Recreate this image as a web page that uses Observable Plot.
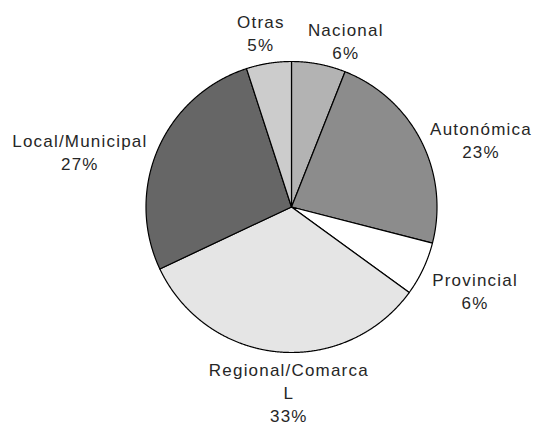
<!DOCTYPE html>
<html><head><meta charset="utf-8">
<script src="https://cdn.jsdelivr.net/npm/d3@7"></script>
<script src="https://cdn.jsdelivr.net/npm/@observablehq/plot@0.6"></script>
<style>body{margin:0;background:#fff}</style>
</head><body><div id="chart"></div>
<script>
// ---- data ----
const categories = ["Nacional", "Autonómica", "Provincial", "Regional/Comarca\nL", "Local/Municipal", "Otras"];
const shares = [6, 23, 6, 33, 27, 5];
const percentLabels = ["6%", "23%", "6%", "33%", "27%", "5%"];
const sliceColors = ["#b3b3b3", "#8c8c8c", "#ffffff", "#e5e5e5", "#666666", "#cccccc"];

// ---- layout ----
const W = 536, H = 427, CX = 291, CY = 206.5, R = 145.5;
const FONT_SIZE = 17, LETTER = 1.2, LINE_H = 23;
// manual label adjustments (px), like hand-dragged labels in the original
const nudges = {
  "Nacional": [21.6, 1.7],
  "Autonómica": [11.4, 23],
  "Provincial": [9.1, 1.4],
  "Regional/Comarca\nL": [14, 2.5],
  "Local/Municipal": [-15.1, 29],
  "Otras": [-5, -9]
};

const rows = categories.map((c, i) => ({category: c, share: shares[i]}));
const arcs = d3.pie().sort(null).value(d => d.share)(rows);

const step = Math.PI / 720;
const sliceMarks = arcs.map((a, i) => {
  const pts = [{x: 0, y: 0}];
  const n = Math.max(2, Math.ceil((a.endAngle - a.startAngle) / step));
  for (let j = 0; j <= n; j++) {
    const t = a.startAngle + (a.endAngle - a.startAngle) * j / n;
    pts.push({x: Math.sin(t), y: Math.cos(t)});
  }
  pts.push({x: 0, y: 0});
  return Plot.line(pts, {x: "x", y: "y", fill: sliceColors[i], stroke: "#000", strokeWidth: 1.2, strokeLinejoin: "round", curve: "linear"});
});

const ctx = document.createElement("canvas").getContext("2d");
ctx.font = `${FONT_SIZE}px "Liberation Sans", Arial, sans-serif`;
const textW = s => ctx.measureText(s).width + LETTER * (s.length - 1);

const labelData = arcs.map((a, i) => {
  const lines = (categories[i] + "\n" + percentLabels[i]).split("\n");
  const w = Math.max(...lines.map(textW));
  const h = (lines.length - 1) * LINE_H + 14;
  const m = (a.startAngle + a.endAngle) / 2;
  const s = Math.sin(m), k = Math.cos(m);
  const t = R + 0.5 + (w / 2) * Math.abs(s) + (h / 2) * Math.abs(k);
  const [dx, dy] = nudges[categories[i]];
  const px = CX + t * s + dx + LETTER / 2;
  const py = CY - t * k + dy;
  return {x: (px - CX) / R, y: (CY - py) / R, text: lines.join("\n")};
});

const chart = Plot.plot({
  width: W, height: H, margin: 0,
  x: {domain: [-1, 1], range: [CX - R, CX + R], axis: null},
  y: {domain: [-1, 1], range: [CY + R, CY - R], axis: null},
  style: {fontFamily: '"Liberation Sans", Arial, sans-serif', letterSpacing: LETTER + "px", background: "#fff", overflow: "visible"},
  marks: [
    ...sliceMarks,
    Plot.text(labelData, {x: "x", y: "y", text: "text", textAnchor: "middle", lineAnchor: "middle",
      lineHeight: LINE_H / FONT_SIZE, fontSize: FONT_SIZE, fill: "#262626"})
  ]
});
document.getElementById("chart").appendChild(chart);
</script>
</body></html>
